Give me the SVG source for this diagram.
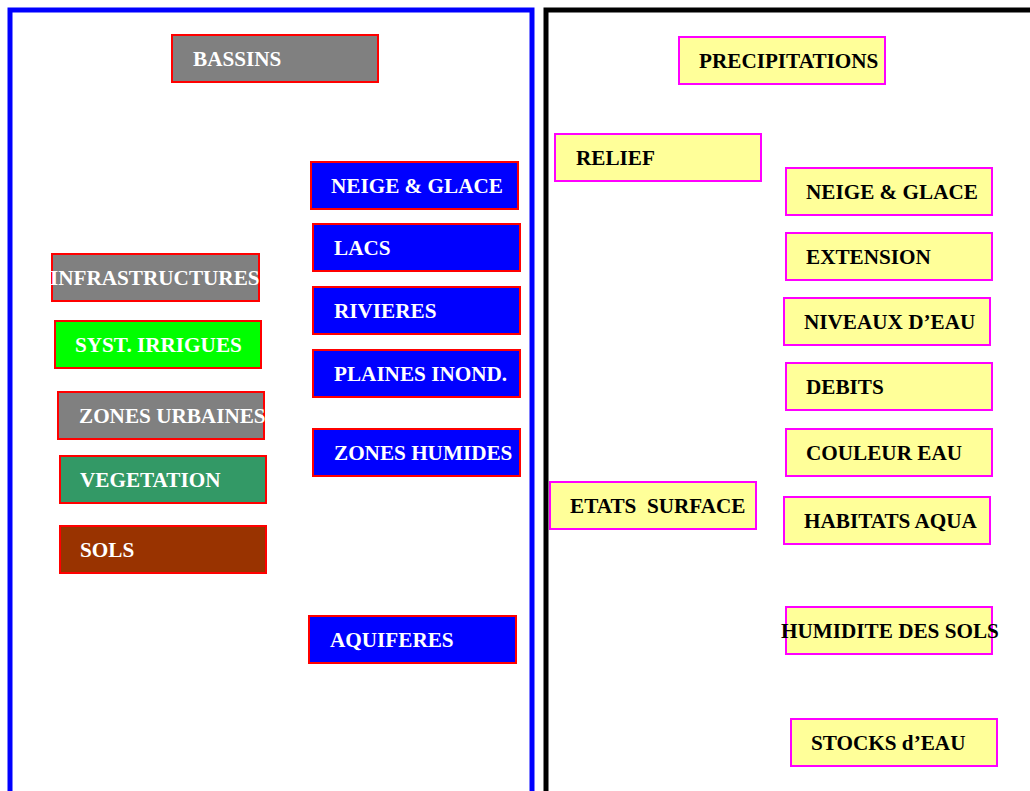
<svg xmlns="http://www.w3.org/2000/svg" width="1030" height="791" viewBox="0 0 1030 791">
<style>
.t{font-family:"Liberation Serif","Times New Roman",serif;font-weight:bold;font-size:21.2px;white-space:pre}
.w{fill:#fff}
.k{fill:#000}
.r{stroke:#ff0000;stroke-width:2}
.m{fill:#ffff99;stroke:#ff00ff;stroke-width:2}
.gray{fill:#808080}
.blue{fill:#0000ff}
</style>
<rect x="0" y="0" width="1030" height="791" fill="#fff"/>
<g id="frames">
<rect x="10" y="10" width="522" height="800" fill="none" stroke="#0000ff" stroke-width="5"/>
<rect x="546" y="10" width="500" height="800" fill="none" stroke="#000" stroke-width="5"/>
</g>
<g id="connectors"></g>
<g id="bassins"><rect class="r gray" x="172" y="35" width="206" height="47"/><text class="t w" x="193" y="66">BASSINS</text></g>
<g id="neige1"><rect class="r blue" x="311" y="162" width="207" height="47"/><text class="t w" x="331" y="193">NEIGE &amp; GLACE</text></g>
<g id="lacs"><rect class="r blue" x="313" y="224" width="207" height="47"/><text class="t w" x="334" y="255">LACS</text></g>
<g id="rivieres"><rect class="r blue" x="313" y="287" width="207" height="47"/><text class="t w" x="334" y="318">RIVIERES</text></g>
<g id="plaines"><rect class="r blue" x="313" y="350" width="207" height="47"/><text class="t w" x="334" y="381">PLAINES INOND.</text></g>
<g id="zhumides"><rect class="r blue" x="313" y="429" width="207" height="47"/><text class="t w" x="334" y="460">ZONES HUMIDES</text></g>
<g id="aquiferes"><rect class="r blue" x="309" y="616" width="207" height="47"/><text class="t w" x="330" y="647">AQUIFERES</text></g>
<g id="infra"><rect class="r gray" x="52" y="254" width="207" height="47"/><text class="t w" x="50" y="285">INFRASTRUCTURES</text></g>
<g id="irrig"><rect class="r" fill="#00ff00" x="55" y="321" width="206" height="47"/><text class="t w" x="75" y="352">SYST. IRRIGUES</text></g>
<g id="urb"><rect class="r gray" x="58" y="392" width="206" height="47"/><text class="t w" x="79" y="423">ZONES URBAINES</text></g>
<g id="veg"><rect class="r" fill="#339966" x="60" y="456" width="206" height="47"/><text class="t w" x="80" y="487">VEGETATION</text></g>
<g id="sols"><rect class="r" fill="#993300" x="60" y="526" width="206" height="47"/><text class="t w" x="80" y="557">SOLS</text></g>
<g id="precip"><rect class="m" x="679" y="37" width="206" height="47"/><text class="t k" x="699" y="68">PRECIPITATIONS</text></g>
<g id="relief"><rect class="m" x="555" y="134" width="206" height="47"/><text class="t k" x="576" y="165">RELIEF</text></g>
<g id="neige2"><rect class="m" x="786" y="168" width="206" height="47"/><text class="t k" x="806" y="199">NEIGE &amp; GLACE</text></g>
<g id="extension"><rect class="m" x="786" y="233" width="206" height="47"/><text class="t k" x="806" y="264">EXTENSION</text></g>
<g id="niveaux"><rect class="m" x="784" y="298" width="206" height="47"/><text class="t k" x="804" y="329">NIVEAUX D’EAU</text></g>
<g id="debits"><rect class="m" x="786" y="363" width="206" height="47"/><text class="t k" x="806" y="394">DEBITS</text></g>
<g id="couleur"><rect class="m" x="786" y="429" width="206" height="47"/><text class="t k" x="806" y="460">COULEUR EAU</text></g>
<g id="etats"><rect class="m" x="550" y="482" width="206" height="47"/><text class="t k" x="570" y="513">ETATS  SURFACE</text></g>
<g id="habitats"><rect class="m" x="784" y="497" width="206" height="47"/><text class="t k" x="804" y="528">HABITATS AQUA</text></g>
<g id="humidite"><rect class="m" x="786" y="607" width="206" height="47"/><text class="t k" x="781" y="638">HUMIDITE DES SOLS</text></g>
<g id="stocks"><rect class="m" x="791" y="719" width="206" height="47"/><text class="t k" x="811" y="750">STOCKS d’EAU</text></g>
</svg>
